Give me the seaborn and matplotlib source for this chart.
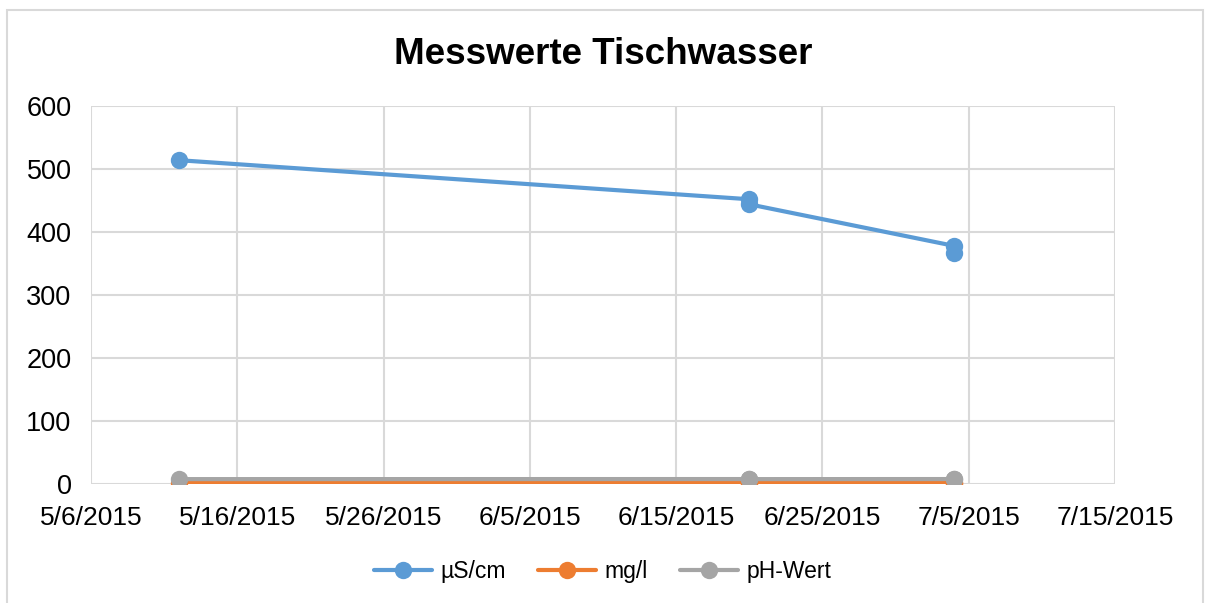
import seaborn as sns
import matplotlib.pyplot as plt
import matplotlib.dates as mdates
from matplotlib.patches import Rectangle
import pandas as pd

# Measurement dates (several readings on some days)
dates = ['2015-05-12', '2015-06-20', '2015-06-20', '2015-07-04', '2015-07-04']
us_cm = [514, 452, 444, 378, 367]
mg_l = [2.4, 2.4, 2.2, 2.3, 2.1]
ph = [7.8, 7.9, 7.8, 7.9, 7.8]

series_names = ['µS/cm', 'mg/l', 'pH-Wert']
colors = ['#5B9BD5', '#ED7D31', '#A5A5A5']
x_ticks = ['2015-05-06', '2015-05-16', '2015-05-26', '2015-06-05',
           '2015-06-15', '2015-06-25', '2015-07-05', '2015-07-15']
y_ticks = [0, 100, 200, 300, 400, 500, 600]

df = pd.DataFrame({
    'Datum': pd.to_datetime(dates * 3),
    'Wert': us_cm + mg_l + ph,
    'Serie': [series_names[0]] * 5 + [series_names[1]] * 5 + [series_names[2]] * 5,
})

sns.set_style('white')
plt.rcParams['font.family'] = ['Liberation Sans', 'DejaVu Sans']
plt.rcParams['text.color'] = 'black'
plt.rcParams['xtick.color'] = 'black'
plt.rcParams['ytick.color'] = 'black'

fig = plt.figure(figsize=(12.06, 6.03), dpi=100)
ax = fig.add_axes([0.0755, 0.1973, 0.849, 0.6269])

sns.lineplot(data=df, x='Datum', y='Wert', hue='Serie', hue_order=series_names,
             palette=colors, estimator=None, sort=False, marker='o',
             markersize=12.5, markeredgewidth=0, linewidth=3, ax=ax, legend=True)

ax.set_xlim(pd.Timestamp(x_ticks[0]), pd.Timestamp(x_ticks[-1]))
ax.set_xticks(pd.to_datetime(x_ticks))
ax.xaxis.set_major_formatter(mdates.DateFormatter('%-m/%-d/%Y'))
ax.set_ylim(0, 600)
ax.set_yticks(y_ticks)
ax.set_xlabel('')
ax.set_ylabel('')
ax.grid(True, color='#d9d9d9', linewidth=1.5)
ax.set_axisbelow(True)
for s in ax.spines.values():
    s.set_visible(False)
ax.tick_params(axis='x', length=0, pad=16, labelsize=19)
ax.tick_params(axis='y', length=0, pad=14, labelsize=19.5)

handles, labels = ax.get_legend_handles_labels()
ax.get_legend().remove()
fig.legend(handles, labels, loc='center', bbox_to_anchor=(0.5, 0.053), ncol=3,
           frameon=False, fontsize=16.5, handlelength=2.5, columnspacing=1.4,
           handletextpad=0.4)

fig.text(0.5, 0.91, 'Messwerte Tischwasser', ha='center', va='center',
         fontsize=26.5, fontweight='bold')

fig.patches.append(Rectangle((0.0055, -0.02), 0.992, 1.004, transform=fig.transFigure,
                             fill=False, edgecolor='#d9d9d9', linewidth=1.5))

plt.savefig('out.png', dpi=100)
